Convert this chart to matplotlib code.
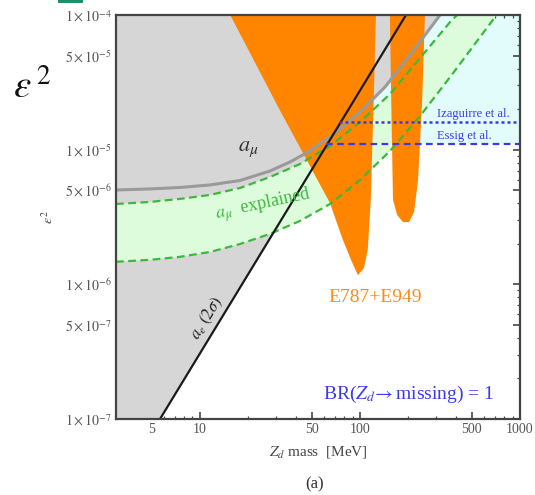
import matplotlib
matplotlib.use("Agg")
import matplotlib.pyplot as plt
from matplotlib.patches import Polygon, Rectangle
from matplotlib.ticker import FixedLocator, NullFormatter

plt.rcParams['font.family'] = ['Liberation Serif', 'DejaVu Serif']
plt.rcParams['mathtext.fontset'] = 'stix'

# ---- data (Z_d mass in MeV, epsilon^2) ----
xlim = (3, 1000)
ylim = (1e-7, 1e-4)

# a_mu (2 sigma) exclusion boundary
amu_mass = [3.0, 4.89, 7.53, 11.6, 17.9, 27.5, 36.6, 48.8, 70.0, 100.3,
            143.6, 205.8, 316.9, 336]
amu_eps2 = [5.02e-6, 5.11e-6, 5.24e-6, 5.47e-6, 5.91e-6, 6.95e-6, 8.10e-6,
            9.78e-6, 1.33e-5, 1.905e-5, 2.92e-5, 5.05e-5, 1.0e-4, 1.1e-4]

# a_mu explained band (upper / lower edges)
band_hi_mass = [3.0, 4.89, 7.53, 11.6, 17.9, 27.5, 42.3, 65.1, 100.3, 154.3,
                237.6, 366, 404.7, 438]
band_hi_eps2 = [3.95e-6, 4.09e-6, 4.31e-6, 4.61e-6, 5.20e-6, 6.27e-6, 7.83e-6,
                1.065e-5, 1.605e-5, 2.59e-5, 4.79e-5, 8.87e-5, 1.0e-4, 1.12e-4]
band_lo_mass = [3.0, 4.89, 7.53, 11.6, 17.9, 27.5, 42.3, 65.1, 100.3, 154.3,
                237.6, 366, 563, 699, 780]
band_lo_eps2 = [1.47e-6, 1.52e-6, 1.60e-6, 1.74e-6, 1.995e-6, 2.37e-6, 2.96e-6,
                3.95e-6, 5.96e-6, 9.78e-6, 1.779e-5, 3.46e-5, 6.86e-5, 9.66e-5,
                1.15e-4]

# a_e (2 sigma) boundary
ae_mass = [5.65, 194]
ae_eps2 = [1e-7, 1e-4]

# E787+E949 exclusion (two pieces around the pion mass)
e787a_mass = [15.5, 31.6, 65.0, 78.3, 89.1, 97.2, 106, 112, 117, 122, 126]
e787a_eps2 = [1e-4, 1.97e-5, 4.02e-6, 2.14e-6, 1.47e-6, 1.17e-6, 1.32e-6,
              1.80e-6, 4.23e-6, 2.34e-5, 1e-4]
e787b_mass = [154, 157, 161, 171, 186, 203, 218, 231, 245, 255]
e787b_eps2 = [1e-4, 2.34e-5, 4.23e-6, 3.27e-6, 2.90e-6, 2.90e-6, 3.45e-6,
              5.96e-6, 2.34e-5, 1e-4]

# invisible-decay limits from other analyses
izaguirre_mass = [73.8, 1000]
izaguirre_eps2 = [1.61e-5, 1.61e-5]
essig_mass = [61.4, 1000]
essig_eps2 = [1.10e-5, 1.10e-5]

yticks = [1e-7, 5e-7, 1e-6, 5e-6, 1e-5, 5e-5, 1e-4]
ytick_labels = [r'$1\times10^{-7}$', r'$5\times10^{-7}$', r'$1\times10^{-6}$',
                r'$5\times10^{-6}$', r'$1\times10^{-5}$', r'$5\times10^{-5}$',
                r'$1\times10^{-4}$']
xticks = [5, 10, 50, 100, 500, 1000]
xtick_labels = ['5', '10', '50', '100', '500', '1000']

# ---- colours ----
c_gray_fill = '#d6d6d6'
c_cyan = '#e2fcfc'
c_green_fill = '#dcfcdc'
c_green_line = '#3cb83c'
c_orange = '#ff8400'
c_blue = '#3a3ae6'
c_amu = '#9a9a9a'

fig = plt.figure(figsize=(5.35, 4.95), dpi=100)
ax = fig.add_axes([116 / 535, 76 / 495, 404 / 535, 404 / 495])
ax.set_xscale('log')
ax.set_yscale('log')
ax.set_xlim(*xlim)
ax.set_ylim(*ylim)

# region above the Essig et al. limit
ax.fill_between([essig_mass[0], xlim[1]], essig_eps2[0], ylim[1],
                color=c_cyan, lw=0, zorder=1)

# excluded by a_mu (above curve) and a_e (left of line)
ax.fill_between(amu_mass, amu_eps2, 1e-3, color=c_gray_fill, lw=0, zorder=2)
ax.add_patch(Polygon([(xlim[0], ylim[0]), (ae_mass[0], ae_eps2[0]),
                      (ae_mass[1], ae_eps2[1]), (xlim[0], ylim[1])],
                     closed=True, color=c_gray_fill, lw=0, zorder=2))

# a_mu explained band
band_poly = list(zip(band_hi_mass, band_hi_eps2)) + \
    list(zip(band_lo_mass, band_lo_eps2))[::-1]
ax.add_patch(Polygon(band_poly, closed=True, color=c_green_fill, lw=0, zorder=3))

# E787+E949
for mm, ee in ((e787a_mass, e787a_eps2), (e787b_mass, e787b_eps2)):
    ax.add_patch(Polygon(list(zip(mm, ee)), closed=True, color=c_orange,
                         lw=0, zorder=4))

# curves
ax.plot(amu_mass, amu_eps2, color=c_amu, lw=2.2, zorder=5)
ax.plot(band_hi_mass, band_hi_eps2, color=c_green_line, lw=1.6,
        ls=(0, (3.5, 2)), zorder=5)
ax.plot(band_lo_mass, band_lo_eps2, color=c_green_line, lw=1.6,
        ls=(0, (3.5, 2)), zorder=5)
ax.plot(ae_mass, ae_eps2, color='#1a1a1a', lw=1.6, zorder=6)
ax.plot(izaguirre_mass, izaguirre_eps2, color=c_blue, lw=1.8,
        ls=(0, (1.2, 1.2)), zorder=6)
ax.plot(essig_mass, essig_eps2, color=c_blue, lw=1.6,
        ls=(0, (3, 2)), zorder=6)

# labels inside the plot
ax.text(20, 1.0e-5, r'$a_{\mu}$', color='#333333', fontsize=16,
        ha='center', va='center', zorder=7)
ax.text(24.9, 3.9e-6, r'$a_{\mu}$  explained', color='#3cb83c', fontsize=13,
        ha='center', va='center', rotation=12, zorder=7)
ax.text(11.1, 5.6e-7, r'$a_e$ $(2\sigma)$', color='#222222', fontsize=12,
        ha='center', va='center', rotation=58, zorder=7)
ax.text(125, 8.05e-7, 'E787+E949', color='#ff8a1a', fontsize=14,
        ha='center', va='center', zorder=7)
ax.text(200, 1.53e-7, r'BR($Z_d\!\rightarrow$missing) = 1', color=c_blue,
        fontsize=14, ha='center', va='center', zorder=7)
ax.text(304, 1.84e-5, 'Izaguirre et al.', color=c_blue, fontsize=9,
        ha='left', va='center', zorder=7)
ax.text(304, 1.26e-5, 'Essig et al.', color=c_blue, fontsize=9,
        ha='left', va='center', zorder=7)

# axes styling
ax.xaxis.set_major_locator(FixedLocator(xticks))
ax.set_xticklabels(xtick_labels)
xminor = [v * d for d in (1, 10, 100) for v in range(2, 10)
          if xlim[0] <= v * d <= xlim[1] and v * d not in xticks]
ax.xaxis.set_minor_locator(FixedLocator(xminor))
ax.xaxis.set_minor_formatter(NullFormatter())
ax.yaxis.set_major_locator(FixedLocator(yticks))
ax.set_yticklabels(ytick_labels)
yminor = [v * 10.0 ** e for e in (-7, -6, -5) for v in (2, 3, 4, 6, 7, 8, 9)]
ax.yaxis.set_minor_locator(FixedLocator(yminor))
ax.yaxis.set_minor_formatter(NullFormatter())

ax.tick_params(which='both', direction='in', top=True, right=True,
               colors='#444444', labelcolor='#555555', labelsize=10)
ax.tick_params(which='major', length=5, width=1.2, pad=3)
ax.tick_params(which='minor', length=2.5, width=0.9)
for sp in ax.spines.values():
    sp.set_color('#444444')
    sp.set_linewidth(1.6)
    sp.set_zorder(10)

ax.set_xlabel(r'$Z_d$ mass  [MeV]', fontsize=11, color='#444444', labelpad=6)
ax.set_ylabel(r'$\varepsilon^2$', fontsize=10, color='#444444', labelpad=6)

fig.text(315 / 535, 1 - 484 / 495, '(a)', fontsize=12, color='#333333',
         ha='center', va='center')
fig.text(32 / 535, 1 - 88 / 495, r'$\varepsilon^{\,2}$', fontsize=28,
         color='#111111', ha='center', va='center')
fig.patches.append(Rectangle((58 / 535, 1 - 3 / 495), 25 / 535, 3 / 495,
                             transform=fig.transFigure, color='#1f8f6a',
                             lw=0))

fig.savefig('out.png', dpi=100)
